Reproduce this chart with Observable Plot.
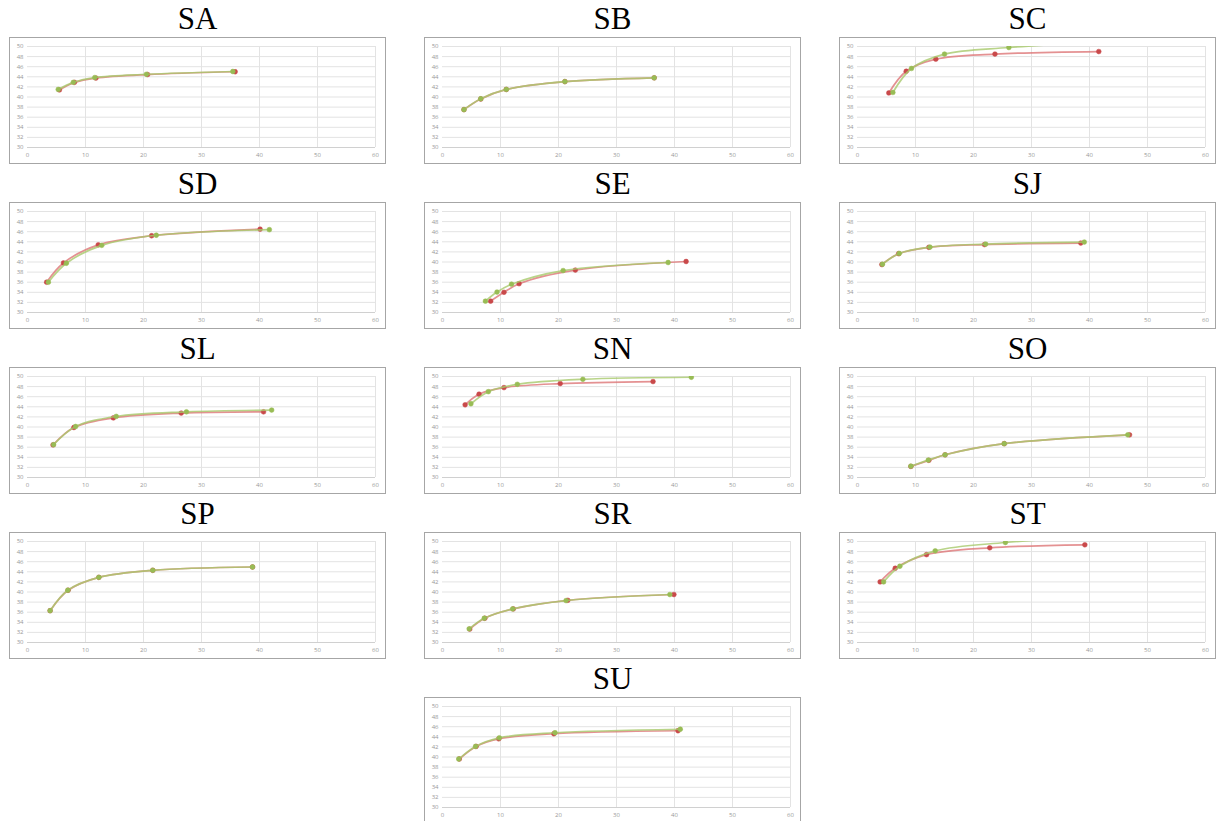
<!DOCTYPE html>
<html><head><meta charset="utf-8">
<script src="https://cdn.jsdelivr.net/npm/d3@7"></script>
<script src="https://cdn.jsdelivr.net/npm/@observablehq/plot@0.6"></script>
<style>
html,body{margin:0;padding:0;background:#fff;}
body{width:1217px;height:821px;overflow:hidden;position:relative;}
.title{position:absolute;font-family:"Liberation Serif","Times New Roman",serif;font-size:31px;color:#000;text-align:center;width:377px;line-height:1;white-space:nowrap;}
.box{position:absolute;border:1px solid #a6a6a6;width:375px;height:125px;background:#fff;}
.box svg{display:block;}
</style></head><body>
<script>
// Tick labels
const xTicks = [0, 10, 20, 30, 40, 50, 60];
const yTicks = [30, 32, 34, 36, 38, 40, 42, 44, 46, 48, 50];

// Panel names, in reading order
const panelNames = ["SA", "SB", "SC", "SD", "SE", "SJ", "SL", "SN", "SO", "SP", "SR", "ST", "SU"];

// Series values [x, y] — red series
const SA_red = [[5.5, 41.4], [8.1, 42.9], [11.8, 43.75], [20.7, 44.45], [35.8, 45.0]];
const SB_red = [[3.7, 37.5], [6.6, 39.6], [11.0, 41.5], [21.1, 43.05], [36.5, 43.8]];
const SC_red = [[5.4, 40.8], [8.4, 45.1], [13.5, 47.5], [23.7, 48.5], [41.6, 49.0]];
const SD_red = [[3.3, 36.0], [6.2, 39.8], [12.2, 43.4], [21.4, 45.2], [40.1, 46.5]];
const SE_red = [[8.3, 32.25], [10.6, 34.0], [13.2, 35.7], [22.9, 38.4], [42.0, 40.1]];
const SJ_red = [[4.2, 39.5], [7.1, 41.65], [12.3, 42.9], [21.9, 43.45], [38.5, 43.75]];
const SL_red = [[4.4, 36.45], [8.0, 39.9], [14.8, 41.8], [26.5, 42.75], [40.7, 43.0]];
const SN_red = [[3.9, 44.4], [6.3, 46.5], [10.6, 47.8], [20.3, 48.6], [36.3, 49.0]];
const SO_red = [[9.2, 32.2], [12.3, 33.4], [15.1, 34.5], [25.3, 36.7], [46.9, 38.45]];
const SP_red = [[3.9, 36.3], [7.0, 40.35], [12.3, 42.9], [21.6, 44.3], [38.8, 44.95]];
const SR_red = [[4.7, 32.65], [7.3, 34.8], [12.2, 36.65], [21.6, 38.35], [39.9, 39.5]];
const ST_red = [[3.9, 42.0], [6.5, 44.7], [11.9, 47.4], [22.8, 48.75], [39.2, 49.35]];
const SU_red = [[2.9, 39.6], [5.8, 42.1], [9.7, 43.6], [19.2, 44.6], [40.6, 45.2]];

// Series values [x, y] — green series (SC and ST end above the 50 limit, clipped)
const SA_green = [[5.3, 41.5], [7.9, 42.9], [11.6, 43.85], [20.5, 44.5], [35.4, 45.05]];
const SB_green = [[3.7, 37.5], [6.6, 39.65], [11.0, 41.5], [21.1, 43.05], [36.5, 43.8]];
const SC_green = [[6.1, 40.9], [9.3, 45.65], [15.0, 48.5], [26.1, 49.8], [42.0, 50.9]];
const SD_green = [[3.6, 36.0], [6.7, 39.75], [12.8, 43.3], [22.2, 45.3], [41.7, 46.4]];
const SE_green = [[7.4, 32.25], [9.4, 34.05], [11.9, 35.6], [20.8, 38.3], [38.9, 39.9]];
const SJ_green = [[4.3, 39.55], [7.2, 41.7], [12.5, 42.95], [22.1, 43.55], [39.1, 43.95]];
const SL_green = [[4.5, 36.5], [8.3, 40.1], [15.3, 42.1], [27.4, 43.0], [42.1, 43.35]];
const SN_green = [[4.9, 44.6], [7.9, 47.0], [12.9, 48.45], [24.2, 49.45], [42.9, 49.85]];
const SO_green = [[9.2, 32.25], [12.2, 33.45], [15.1, 34.5], [25.3, 36.7], [46.6, 38.45]];
const SP_green = [[3.9, 36.3], [6.95, 40.35], [12.3, 42.9], [21.6, 44.3], [38.8, 44.95]];
const SR_green = [[4.6, 32.7], [7.2, 34.8], [12.1, 36.65], [21.3, 38.3], [39.2, 39.5]];
const ST_green = [[4.5, 42.0], [7.3, 45.1], [13.4, 48.15], [25.5, 49.8], [40.0, 50.9]];
const SU_green = [[2.8, 39.6], [5.7, 42.1], [9.8, 43.8], [19.4, 44.8], [41.0, 45.5]];

const redSeries = {SA: SA_red, SB: SB_red, SC: SC_red, SD: SD_red, SE: SE_red, SJ: SJ_red, SL: SL_red, SN: SN_red, SO: SO_red, SP: SP_red, SR: SR_red, ST: ST_red, SU: SU_red};
const greenSeries = {SA: SA_green, SB: SB_green, SC: SC_green, SD: SD_green, SE: SE_green, SJ: SJ_green, SL: SL_green, SN: SN_green, SO: SO_green, SP: SP_green, SR: SR_green, ST: ST_green, SU: SU_green};

const colLeft = [9, 424, 839];
const rowTop = [37, 202, 367, 532, 697];

function panelChart(name) {
  const red = redSeries[name], green = greenSeries[name];
  return Plot.plot({
    width: 375, height: 125,
    marginLeft: 17, marginRight: 10, marginTop: 8, marginBottom: 16,
    style: {fontSize: "6px", fontFamily: "'Open Sans', 'DejaVu Sans', sans-serif", color: "#999999", background: "#fff"},
    x: {domain: [0, 60], ticks: xTicks, tickSize: 0, tickPadding: 5, label: null},
    y: {domain: [30, 50], ticks: yTicks, tickSize: 0, tickPadding: 4, label: null},
    marks: [
      Plot.gridY(yTicks, {stroke: "#e3e3e3", strokeOpacity: 1}),
      Plot.gridX(xTicks.slice(1), {stroke: "#e3e3e3", strokeOpacity: 1}),
      Plot.ruleY([30], {stroke: "#d0d0d0"}),
      Plot.line(red, {curve: "catmull-rom", stroke: "#dd7677", strokeWidth: 1.7, strokeOpacity: 0.8, clip: true}),
      Plot.dot(red, {r: 2.4, fill: "#c9494a", stroke: "#c9494a", strokeWidth: 0.5, clip: true}),
      Plot.line(green, {curve: "catmull-rom", stroke: "#a8c96c", strokeWidth: 1.7, strokeOpacity: 0.8, clip: true}),
      Plot.dot(green, {r: 2.4, fill: "#98bc55", stroke: "#98bc55", strokeWidth: 0.5, clip: true})
    ]
  });
}

panelNames.forEach((name, i) => {
  const col = i < 12 ? i % 3 : 1;
  const row = i < 12 ? Math.floor(i / 3) : 4;
  const left = colLeft[col], top = rowTop[row];
  const t = document.createElement("div");
  t.className = "title";
  t.textContent = name;
  t.style.left = left + "px";
  t.style.top = (top - 34) + "px";
  document.body.appendChild(t);
  const box = document.createElement("div");
  box.className = "box";
  box.style.left = left + "px";
  box.style.top = top + "px";
  box.appendChild(panelChart(name));
  document.body.appendChild(box);
});
</script>
</body></html>
